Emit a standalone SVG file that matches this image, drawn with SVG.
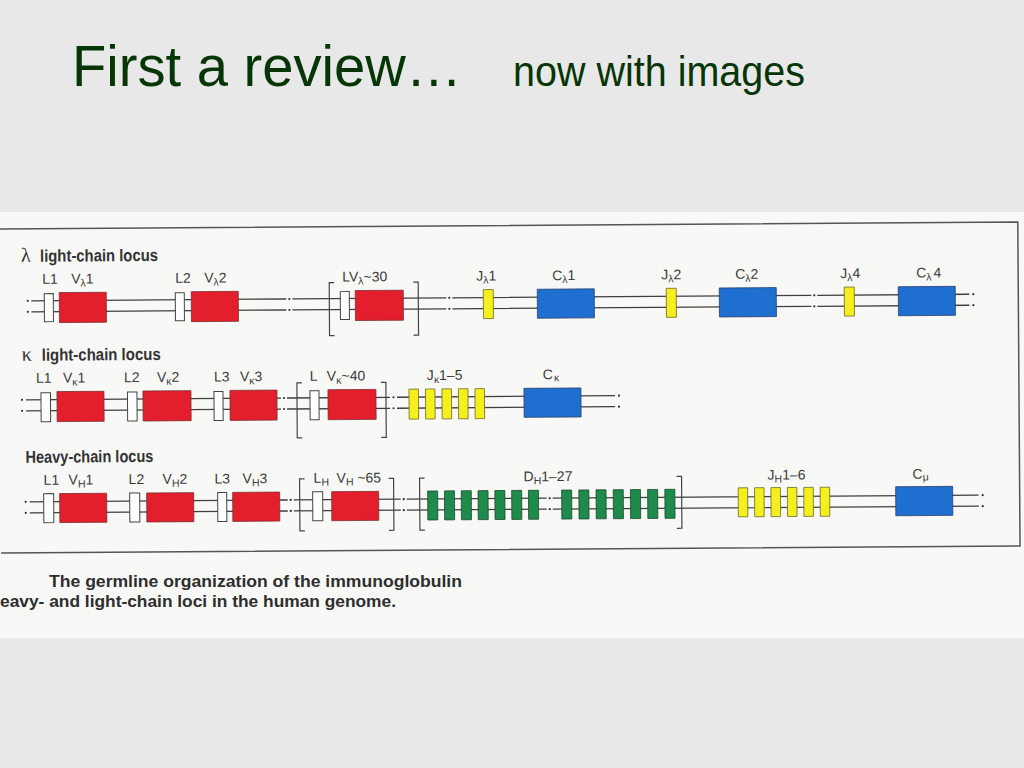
<svg xmlns="http://www.w3.org/2000/svg" width="1024" height="768" viewBox="0 0 1024 768">
<style>
.ln{stroke:#3f3f3f;stroke-width:1.3;fill:none}
.dot{fill:#333}
.L{fill:#fff;stroke:#444;stroke-width:1}
.V{fill:#e31e2d;stroke:#7a3030;stroke-width:0.8}
.C{fill:#1f6fd0;stroke:#2a3f6a;stroke-width:0.8}
.J{fill:#f5f01c;stroke:#6b6a2a;stroke-width:0.8}
.D{fill:#1e8a4c;stroke:#1d4a2c;stroke-width:0.8}
.br{stroke:#444;stroke-width:1.2;fill:none}
.lab{font-family:"Liberation Sans",Arial,sans-serif;font-size:14px;fill:#3c3c3c}
.sub{font-size:10.5px}
.head{font-family:"Liberation Sans",Arial,sans-serif;font-size:17px;font-weight:bold;fill:#333}
.greek{font-family:"Liberation Serif","DejaVu Serif",serif;font-size:20px;fill:#333}
.cap{font-family:"Liberation Sans",Arial,sans-serif;font-size:16px;font-weight:bold;fill:#2e2e2e}
.title{font-family:"Liberation Sans",Arial,sans-serif;fill:#063506}
</style>
<rect width="1024" height="768" fill="#e8e8e8"/>
<rect x="0" y="212" width="1024" height="426" fill="#f8f8f7"/>
<g id="title">
<text class="title" x="72" y="86" font-size="57" textLength="390" lengthAdjust="spacingAndGlyphs">First a review…</text>
<text class="title" x="513" y="86" font-size="42" textLength="292" lengthAdjust="spacingAndGlyphs">now with images</text>
</g>
<g transform="rotate(-0.4 0 400)">
<path id="frame" d="M0 229H1019V553H0" fill="none" stroke="#555" stroke-width="1.5"/>
<g id="headings">
<text class="greek" x="22" y="262">λ</text>
<text class="head" x="41" y="262" textLength="118" lengthAdjust="spacingAndGlyphs">light-chain locus</text>
<text class="greek" x="22" y="361">κ</text>
<text class="head" x="42" y="361" textLength="119" lengthAdjust="spacingAndGlyphs">light-chain locus</text>
<text class="head" x="25" y="463" textLength="128" lengthAdjust="spacingAndGlyphs">Heavy-chain locus</text>
</g>
<g id="connectors">
<path class="ln" d="M32 301H287M293 301H447M453 301H812M818 301H970M32 312H287M293 312H447M453 312H812M818 312H970"/>
<g class="dot">
<circle cx="28.5" cy="301" r="1.1"/><circle cx="28.5" cy="312" r="1.1"/>
<circle cx="290" cy="301" r="1.1"/><circle cx="290" cy="312" r="1.1"/>
<circle cx="450" cy="301" r="1.1"/><circle cx="450" cy="312" r="1.1"/>
<circle cx="815" cy="301" r="1.1"/><circle cx="815" cy="312" r="1.1"/>
<circle cx="974" cy="301" r="1.1"/><circle cx="974" cy="312" r="1.1"/>
</g>
<path class="ln" d="M26 400H281M287 400H390M397 400H615M26 411H281M287 411H390M397 411H615"/>
<g class="dot">
<circle cx="22" cy="400" r="1.1"/><circle cx="22" cy="411" r="1.1"/>
<circle cx="284" cy="400" r="1.1"/><circle cx="284" cy="411" r="1.1"/>
<circle cx="393.5" cy="400" r="1.1"/><circle cx="393.5" cy="411" r="1.1"/>
<circle cx="619" cy="400" r="1.1"/><circle cx="619" cy="411" r="1.1"/>
</g>
<path class="ln" d="M29 502H287M293 502H400M406 502H546M552 502H978M29 513H287M293 513H400M406 513H546M552 513H978"/>
<g class="dot">
<circle cx="25" cy="502" r="1.1"/><circle cx="25" cy="513" r="1.1"/>
<circle cx="290" cy="502" r="1.1"/><circle cx="290" cy="513" r="1.1"/>
<circle cx="403" cy="502" r="1.1"/><circle cx="403" cy="513" r="1.1"/>
<circle cx="549" cy="502" r="1.1"/><circle cx="549" cy="513" r="1.1"/>
<circle cx="982" cy="502" r="1.1"/><circle cx="982" cy="513" r="1.1"/>
</g>
</g>
<g id="brackets" class="br">
<path d="M335 285H330V338H335"/><path d="M414 285H419V338H414"/>
<path d="M302 385H297V440H302"/><path d="M381 385H386V440H381"/>
<path d="M304 481H299V533H304"/><path d="M388 481H393V533H388"/>
<path d="M424 481H419V533H424"/><path d="M676 481H681V533H676"/>
</g>
<!-- lambda locus -->
<g id="lam-L1"><rect class="L" x="45" y="294" width="9" height="28"/><text class="lab" x="43" y="284">L1</text></g>
<g id="lam-V1"><rect class="V" x="60" y="293" width="47" height="30"/><text class="lab" x="72" y="284">V<tspan class="sub" dy="3">λ</tspan><tspan dy="-3">1</tspan></text></g>
<g id="lam-L2"><rect class="L" x="176" y="294" width="9" height="28"/><text class="lab" x="176" y="284">L2</text></g>
<g id="lam-V2"><rect class="V" x="192" y="293" width="47" height="30"/><text class="lab" x="205" y="284">V<tspan class="sub" dy="3">λ</tspan><tspan dy="-3">2</tspan></text></g>
<g id="lam-LV30"><rect class="L" x="341" y="294" width="9" height="28"/><rect class="V" x="356" y="293" width="48" height="30"/><text class="lab" x="343" y="284">LV<tspan class="sub" dy="3">λ</tspan><tspan dy="-3">~30</tspan></text></g>
<g id="lam-J1"><rect class="J" x="484" y="293" width="10" height="29"/><text class="lab" x="477" y="284">J<tspan class="sub" dy="3">λ</tspan><tspan dy="-3">1</tspan></text></g>
<g id="lam-C1"><rect class="C" x="538" y="293" width="57" height="29"/><text class="lab" x="553" y="284">C<tspan class="sub" dy="3">λ</tspan><tspan dy="-3">1</tspan></text></g>
<g id="lam-J2"><rect class="J" x="667" y="293" width="10" height="29"/><text class="lab" x="662" y="284">J<tspan class="sub" dy="3">λ</tspan><tspan dy="-3">2</tspan></text></g>
<g id="lam-C2"><rect class="C" x="720" y="293" width="57" height="29"/><text class="lab" x="736" y="284">C<tspan class="sub" dy="3">λ</tspan><tspan dy="-3">2</tspan></text></g>
<g id="lam-J4"><rect class="J" x="845" y="293" width="10" height="29"/><text class="lab" x="841" y="284">J<tspan class="sub" dy="3">λ</tspan><tspan dy="-3">4</tspan></text></g>
<g id="lam-C4"><rect class="C" x="899" y="293" width="57" height="29"/><text class="lab" x="917" y="284">C<tspan class="sub" dy="3">λ</tspan><tspan dy="-3" dx="2">4</tspan></text></g>
<!-- kappa locus -->
<g id="kap-L1"><rect class="L" x="41" y="393" width="9.5" height="29"/><text class="lab" x="36" y="383">L1</text></g>
<g id="kap-V1"><rect class="V" x="57" y="392" width="47" height="30"/><text class="lab" x="63" y="383">V<tspan class="sub" dy="3">κ</tspan><tspan dy="-3">1</tspan></text></g>
<g id="kap-L2"><rect class="L" x="127.5" y="393" width="9.5" height="29"/><text class="lab" x="124" y="383">L2</text></g>
<g id="kap-V2"><rect class="V" x="143" y="392" width="48" height="30"/><text class="lab" x="157" y="383">V<tspan class="sub" dy="3">κ</tspan><tspan dy="-3">2</tspan></text></g>
<g id="kap-L3"><rect class="L" x="214" y="393" width="9" height="29"/><text class="lab" x="214" y="383">L3</text></g>
<g id="kap-V3"><rect class="V" x="230" y="392" width="47" height="30"/><text class="lab" x="240" y="383">V<tspan class="sub" dy="3">κ</tspan><tspan dy="-3">3</tspan></text></g>
<g id="kap-LV40"><rect class="L" x="310" y="393" width="9" height="29"/><rect class="V" x="328" y="392" width="48" height="30"/><text class="lab" x="310" y="383">L</text><text class="lab" x="327" y="383">V<tspan class="sub" dy="3">κ</tspan><tspan dy="-3">~40</tspan></text></g>
<g id="kap-J1-5"><rect class="J" x="409" y="392" width="9.5" height="30"/><rect class="J" x="425.5" y="392" width="9.5" height="30"/><rect class="J" x="442" y="392" width="9.5" height="30"/><rect class="J" x="458.5" y="392" width="9.5" height="30"/><rect class="J" x="475" y="392" width="9.5" height="30"/><text class="lab" x="427" y="383">J<tspan class="sub" dy="3">κ</tspan><tspan dy="-3">1–5</tspan></text></g>
<g id="kap-C"><rect class="C" x="524" y="392" width="57" height="29"/><text class="lab" x="543" y="383">C<tspan class="sub" dy="2" dx="1">κ</tspan></text></g>
<!-- heavy locus -->
<g id="h-L1"><rect class="L" x="43" y="494" width="10" height="29"/><text class="lab" x="43" y="485">L1</text></g>
<g id="h-V1"><rect class="V" x="59" y="494" width="47" height="29"/><text class="lab" x="68" y="485">V<tspan class="sub" dy="3">H</tspan><tspan dy="-3">1</tspan></text></g>
<g id="h-L2"><rect class="L" x="129" y="494" width="10" height="29"/><text class="lab" x="128" y="485">L2</text></g>
<g id="h-V2"><rect class="V" x="146" y="494" width="47" height="29"/><text class="lab" x="162" y="485">V<tspan class="sub" dy="3">H</tspan><tspan dy="-3">2</tspan></text></g>
<g id="h-L3"><rect class="L" x="217" y="494" width="9" height="29"/><text class="lab" x="214" y="485">L3</text></g>
<g id="h-V3"><rect class="V" x="232" y="494" width="47" height="29"/><text class="lab" x="242" y="485">V<tspan class="sub" dy="3">H</tspan><tspan dy="-3">3</tspan></text></g>
<g id="h-LV65"><rect class="L" x="312" y="494" width="10" height="29"/><rect class="V" x="331" y="494" width="47" height="29"/><text class="lab" x="313" y="485">L<tspan class="sub" dy="3">H</tspan></text><text class="lab" x="336" y="485">V<tspan class="sub" dy="3">H</tspan><tspan dy="-3"> ~65</tspan></text></g>
<g id="h-D1-27">
<rect class="D" x="427" y="494" width="10" height="29"/><rect class="D" x="443.8" y="494" width="10" height="29"/><rect class="D" x="460.6" y="494" width="10" height="29"/><rect class="D" x="477.4" y="494" width="10" height="29"/><rect class="D" x="494.2" y="494" width="10" height="29"/><rect class="D" x="511" y="494" width="10" height="29"/><rect class="D" x="527.8" y="494" width="10" height="29"/>
<rect class="D" x="561" y="494" width="10" height="29"/><rect class="D" x="578.2" y="494" width="10" height="29"/><rect class="D" x="595.4" y="494" width="10" height="29"/><rect class="D" x="612.6" y="494" width="10" height="29"/><rect class="D" x="629.8" y="494" width="10" height="29"/><rect class="D" x="647" y="494" width="10" height="29"/><rect class="D" x="664.2" y="494" width="10" height="29"/>
<text class="lab" x="523" y="485">D<tspan class="sub" dy="3">H</tspan><tspan dy="-3">1–27</tspan></text></g>
<g id="h-J1-6">
<rect class="J" x="737.5" y="493" width="9.5" height="29"/><rect class="J" x="753.9" y="493" width="9.5" height="29"/><rect class="J" x="770.3" y="493" width="9.5" height="29"/><rect class="J" x="786.7" y="493" width="9.5" height="29"/><rect class="J" x="803.1" y="493" width="9.5" height="29"/><rect class="J" x="819.5" y="493" width="9.5" height="29"/>
<text class="lab" x="767" y="485">J<tspan class="sub" dy="3">H</tspan><tspan dy="-3">1–6</tspan></text></g>
<g id="h-Cmu"><rect class="C" x="895" y="493" width="57" height="29"/><text class="lab" x="912" y="485">C<tspan class="sub" dy="2">μ</tspan></text></g>
</g>
<g id="caption">
<text class="cap" x="49" y="587" textLength="413" lengthAdjust="spacingAndGlyphs">The germline organization of the immunoglobulin</text>
<text class="cap" x="0" y="607" textLength="396" lengthAdjust="spacingAndGlyphs">eavy- and light-chain loci in the human genome.</text>
</g>
</svg>
